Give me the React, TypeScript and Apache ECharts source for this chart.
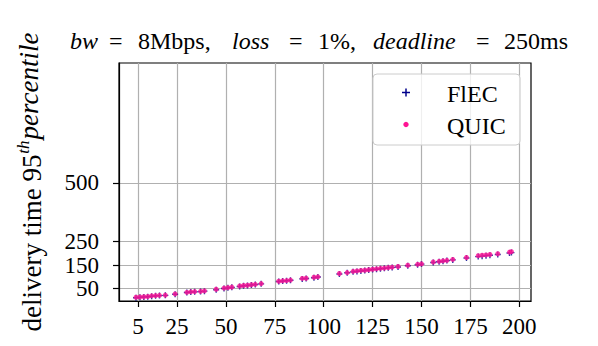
import React, { useEffect, useRef } from "react";
import * as echarts from "echarts";

const sizes = [4, 6, 8, 10, 12, 14, 16, 19, 24, 30, 32, 34, 37, 39, 45, 49, 51, 53, 57, 59, 61, 63, 65, 68, 77, 79, 81, 83, 89, 91, 95, 97, 108, 112, 115, 117, 119, 121, 123, 125, 127, 129, 131, 133, 135, 138, 143, 148, 150, 156, 159, 161, 163, 166, 173, 179, 181, 183, 185, 189, 195, 196];
const flec = [11, 13, 14, 15, 17, 19, 20, 21, 26, 33, 35, 36, 37, 39, 45, 50, 53, 55, 59, 62, 63, 65, 67, 70, 80, 82, 83, 85, 91, 93, 96, 99, 112, 117, 121, 123, 125, 127, 129, 131, 132, 134, 136, 138, 140, 142, 147, 151, 154, 161, 164, 166, 169, 172, 180, 186, 188, 190, 192, 195, 201, 203];
const quic = [13, 14, 15, 16, 19, 20, 21, 22, 27, 34, 36, 37, 38, 40, 47, 52, 54, 56, 61, 63, 64, 66, 68, 71, 81, 83, 84, 86, 93, 94, 98, 100, 114, 118, 123, 125, 127, 128, 130, 132, 134, 136, 137, 139, 141, 144, 149, 153, 155, 163, 166, 168, 170, 174, 182, 190, 192, 193, 195, 198, 205, 207];
const xTicks = [5, 25, 50, 75, 100, 125, 150, 175, 200];
const yTicks = [50, 150, 250, 500];
const seriesNames = ["FlEC", "QUIC"];
const colors = ["#00008b", "#ff1493"];
// title pieces: [text, italic]
const titleParts: [string, boolean][] = [
  ["bw", true], ["=", false], ["8Mbps,", false], ["loss", true], ["=", false],
  ["1%,", false], ["deadline", true], ["=", false], ["250ms", false],
];

const FONT = "Liberation Serif";
const PLUS = "path://M0,2.3 L6,2.3 L6,3.7 L0,3.7 Z M2.3,0 L3.7,0 L3.7,6 L2.3,6 Z";

export default function App() {
  const ref = useRef<HTMLDivElement>(null);
  useEffect(() => {
    if (!ref.current) return;
    const chart = echarts.init(ref.current, null, { renderer: "svg" });
    const axisCommon = {
      type: "value" as const,
      axisLine: { show: true, onZero: false, lineStyle: { color: "#000", width: 1.2 } },
      axisTick: { show: true, inside: false, length: 6, lineStyle: { color: "#000", width: 1.2 } },
      splitLine: { show: true, lineStyle: { color: "#b0b0b0", width: 1.2 } },
    };
    const titleX = [70, 109, 138, 232, 289, 318, 373, 476, 504];
    const titleGraphics = titleParts.map(([t, it], i) => ({
      type: "text",
      x: titleX[i],
      y: 41,
      style: {
        text: t,
        font: `${it ? "italic " : ""}24px "${FONT}"`,
        fill: "#000",
        verticalAlign: "middle",
      },
    }));
    chart.setOption({
      animation: false,
      backgroundColor: "#fff",
      textStyle: { fontFamily: FONT },
      grid: {
        left: 119,
        right: 67,
        top: 63,
        bottom: 45,
        show: true,
        borderColor: "#000",
        borderWidth: 1.2,
        backgroundColor: "transparent",
      },
      xAxis: {
        ...axisCommon,
        min: -4.7,
        max: 206,
        axisTick: { ...axisCommon.axisTick, customValues: xTicks },
        axisLabel: {
          customValues: xTicks,
          margin: 14,
          fontFamily: FONT,
          fontSize: 23,
          color: "#000",
        },
      },
      yAxis: {
        ...axisCommon,
        min: -3,
        max: 1010,
        axisTick: { ...axisCommon.axisTick, customValues: yTicks },
        axisLabel: {
          customValues: yTicks,
          margin: 20,
          fontFamily: FONT,
          fontSize: 23,
          color: "#000",
        },
        name: "{a|delivery time 95}{b|th}{c|percentile}",
        nameLocation: "middle",
        nameRotate: 90,
        nameGap: 74,
        nameTextStyle: {
          fontFamily: FONT,
          color: "#000",
          rich: {
            a: { fontFamily: FONT, fontSize: 27, color: "#000", lineHeight: 30, verticalAlign: "bottom" },
            b: { fontFamily: FONT, fontSize: 17, fontStyle: "italic", color: "#000", lineHeight: 14, verticalAlign: "top", padding: [0, 1, 0, 1] },
            c: { fontFamily: FONT, fontSize: 27, fontStyle: "italic", color: "#000", lineHeight: 22, verticalAlign: "top" },
          },
        },
      },
      series: [
        {
          name: seriesNames[0],
          type: "scatter",
          symbol: PLUS,
          symbolSize: 6,
          itemStyle: { color: colors[0] },
          data: sizes.map((x, i) => [x, flec[i]]),
        },
        {
          name: seriesNames[1],
          type: "scatter",
          symbol: "circle",
          symbolSize: 5,
          itemStyle: { color: colors[1] },
          data: sizes.map((x, i) => [x, quic[i]]),
        },
      ],
      graphic: [
        ...titleGraphics,
        {
          type: "rect",
          shape: { x: 373, y: 74, width: 147, height: 71, r: 4 },
          style: { fill: "rgba(255,255,255,0.8)", stroke: "#cccccc", lineWidth: 1 },
          z: 10,
        },
        {
          type: "line",
          shape: { x1: 402, y1: 92.5, x2: 410, y2: 92.5 },
          style: { stroke: colors[0], lineWidth: 1.5 },
          z: 11,
        },
        {
          type: "line",
          shape: { x1: 406, y1: 88.5, x2: 406, y2: 96.5 },
          style: { stroke: colors[0], lineWidth: 1.5 },
          z: 11,
        },
        {
          type: "circle",
          shape: { cx: 406, cy: 124.5, r: 2.7 },
          style: { fill: colors[1] },
          z: 11,
        },
        {
          type: "text",
          x: 447,
          y: 94,
          style: { text: seriesNames[0], font: `24px "${FONT}"`, fill: "#000", verticalAlign: "middle" },
          z: 11,
        },
        {
          type: "text",
          x: 447,
          y: 126,
          style: { text: seriesNames[1], font: `24px "${FONT}"`, fill: "#000", verticalAlign: "middle" },
          z: 11,
        },
      ],
    });
    return () => chart.dispose();
  }, []);
  return (
    <div
      ref={ref}
      style={{ position: "fixed", left: 0, top: 0, width: 598, height: 346, background: "#fff" }}
    />
  );
}
